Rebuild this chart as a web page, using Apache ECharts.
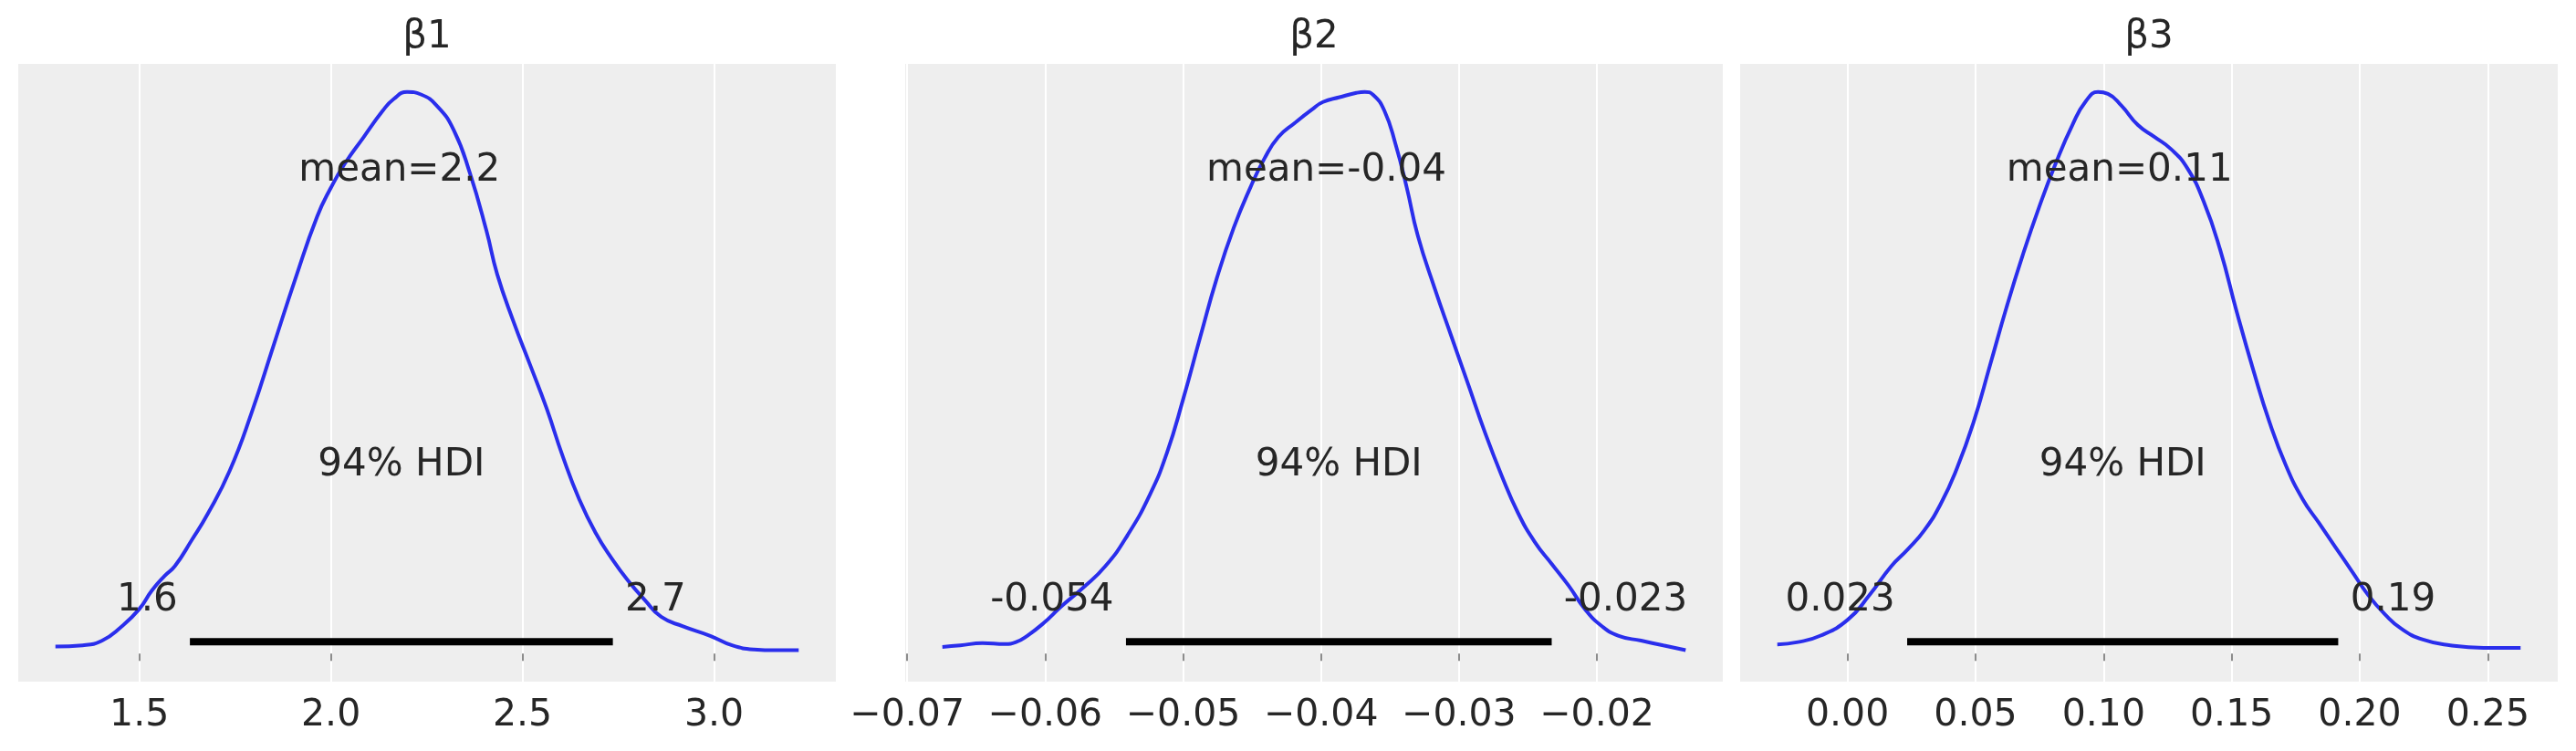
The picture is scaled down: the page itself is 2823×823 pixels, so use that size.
<!DOCTYPE html>
<html>
<head>
<meta charset="utf-8">
<title>posterior</title>
<script src="https://cdn.jsdelivr.net/npm/echarts@6.0.0/dist/echarts.min.js"></script>
<style>
	html, body { margin: 0; padding: 0; background: #ffffff; }
	.chart { width: 2823px; height: 823px; }
</style>
</head>
<body>
<div class="chart"></div>
<script>
// 		panel titles
const titles = ['β1', 'β2', 'β3'];

// 		KDE curves (x value, density)
const b1X = [1.281, 1.352, 1.402, 1.452, 1.500, 1.533, 1.566, 1.593, 1.637, 1.679, 1.736, 1.793, 1.850, 1.907, 1.964, 2.000, 2.036, 2.085, 2.135, 2.164, 2.199, 2.235, 2.278, 2.321, 2.363, 2.406, 2.434, 2.477, 2.520, 2.563, 2.605, 2.648, 2.691, 2.734, 2.776, 2.819, 2.862, 2.919, 2.990, 3.047, 3.104, 3.161, 3.221];
const b1Y = [0.017, 0.020, 0.031, 0.064, 0.108, 0.153, 0.188, 0.212, 0.275, 0.339, 0.443, 0.583, 0.745, 0.907, 1.058, 1.128, 1.186, 1.250, 1.314, 1.343, 1.360, 1.354, 1.325, 1.267, 1.163, 1.024, 0.919, 0.803, 0.699, 0.594, 0.478, 0.374, 0.292, 0.229, 0.176, 0.130, 0.089, 0.066, 0.043, 0.020, 0.010, 0.008, 0.008];

const b2X = [-0.06745, -0.06616, -0.06454, -0.06292, -0.06211, -0.06130, -0.06009, -0.05888, -0.05726, -0.05564, -0.05402, -0.05240, -0.05119, -0.04998, -0.04876, -0.04755, -0.04633, -0.04512, -0.04411, -0.04310, -0.04188, -0.04067, -0.03986, -0.03865, -0.03744, -0.03683, -0.03622, -0.03541, -0.03460, -0.03379, -0.03299, -0.03177, -0.03056, -0.02934, -0.02813, -0.02692, -0.02570, -0.02449, -0.02328, -0.02206, -0.02085, -0.01964, -0.01842, -0.01680, -0.01519, -0.01357];
const b2Y = [0.56, 0.68, 0.88, 0.80, 0.96, 1.48, 2.57, 3.89, 5.49, 7.30, 9.91, 13.31, 16.72, 21.33, 26.45, 31.40, 35.60, 38.98, 41.38, 43.19, 44.39, 45.48, 46.12, 46.52, 46.88, 46.96, 46.72, 45.40, 42.59, 38.98, 34.97, 30.56, 26.55, 22.54, 18.53, 14.92, 11.71, 9.30, 7.50, 5.69, 3.69, 2.29, 1.48, 1.08, 0.68, 0.28];

const b3X = [-0.0274, -0.0193, -0.0107, 0.0000, 0.0086, 0.0171, 0.0235, 0.0300, 0.0364, 0.0428, 0.0492, 0.0557, 0.0621, 0.0685, 0.0749, 0.0813, 0.0878, 0.0931, 0.0978, 0.1017, 0.1070, 0.1134, 0.1199, 0.1263, 0.1327, 0.1391, 0.1455, 0.1520, 0.1584, 0.1648, 0.1712, 0.1777, 0.1841, 0.1905, 0.1969, 0.2033, 0.2098, 0.2162, 0.2247, 0.2354, 0.2483, 0.2628];
const b3Y = [0.146, 0.184, 0.284, 0.538, 0.937, 1.398, 1.666, 1.974, 2.396, 2.972, 3.701, 4.623, 5.544, 6.389, 7.157, 7.848, 8.462, 8.846, 8.992, 8.962, 8.770, 8.462, 8.271, 8.078, 7.771, 7.234, 6.466, 5.468, 4.546, 3.701, 3.010, 2.473, 2.089, 1.705, 1.321, 0.937, 0.630, 0.399, 0.223, 0.131, 0.092, 0.092];

// 		94% HDI and point estimate
const hdiLow = [1.632, -0.05414, 0.0233];
const hdiHigh = [2.736, -0.02328, 0.1916];
const hdiLowText = ['1.6', '-0.054', '0.023'];
const hdiHighText = ['2.7', '-0.023', '0.19'];
const meanX = [2.179, -0.03962, 0.1062];
const meanText = ['mean=2.2', 'mean=-0.04', 'mean=0.11'];
const hdiLabel = '94% HDI';

// 		x tick values and labels
const b1Ticks = [1.5, 2.0, 2.5, 3.0];
const b1TickLabels = ['1.5', '2.0', '2.5', '3.0'];
const b2Ticks = [-0.07, -0.06, -0.05, -0.04, -0.03, -0.02];
const b2TickLabels = ['−0.07', '−0.06', '−0.05', '−0.04', '−0.03', '−0.02'];
const b3Ticks = [0, 0.05, 0.10, 0.15, 0.20, 0.25];
const b3TickLabels = ['0.00', '0.05', '0.10', '0.15', '0.20', '0.25'];

(function() {
	let myChart = echarts.init(document.querySelector('.chart'));

	const xs = [b1X, b2X, b3X];
	const ys = [b1Y, b2Y, b3Y];
	const ticks = [b1Ticks, b2Ticks, b3Ticks];
	const tickLabels = [b1TickLabels, b2TickLabels, b3TickLabels];

	// 	layout (px)
	const gridLeft = [20, 992, 1907];
	const gridTop = 70;
	const gridW = 896;
	const gridH = 677;
	const FONT = 'DejaVu Sans';
	const INK = '#262626';
	const FS = 42;
	// 	matplotlib places text by baseline, zrender by middle
	const SHIFT = 0.3 * FS;

	let grids = [], xAxes = [], yAxes = [], series = [], graphics = [];

	for (let i = 0; i < 3; i++) {
		const x = xs[i], y = ys[i];
		const peak = Math.max(...y);
		const pad = (x[x.length - 1] - x[0]) * 0.05;
		const yMax = peak * 1.05;

		grids.push({
			left: gridLeft[i], top: gridTop, width: gridW, height: gridH,
			show: true, backgroundColor: '#eeeeee', borderWidth: 0,
			containLabel: false, outerBoundsMode: 'none'
		});

		xAxes.push({
			type: 'value',
			gridIndex: i,
			min: x[0] - pad,
			max: x[x.length - 1] + pad,
			axisLine: { show: false },
			axisTick: {
				show: true, length: 8, customValues: ticks[i],
				lineStyle: { color: '#8c8c8c', width: 2 }
			},
			axisLabel: {
				customValues: ticks[i],
				fontSize: 41, fontFamily: FONT, color: INK, margin: 17,
				formatter: function(v) {
					const k = ticks[i].findIndex(t => Math.abs(t - v) < 1e-9);
					return k < 0 ? '' : tickLabels[i][k];
				}
			},
			splitLine: { show: true, lineStyle: { color: '#ffffff', width: 2 } }
		});

		yAxes.push({ type: 'value', gridIndex: i, min: -peak * 0.05, max: yMax, show: false });

		// 	density curve
		series.push({
			type: 'line', xAxisIndex: i, yAxisIndex: i,
			data: x.map((v, j) => [v, y[j]]),
			showSymbol: false, symbol: 'none',
			smooth: 0.5,
			lineStyle: { color: '#2a2eec', width: 4 },
			z: 3
		});

		// 	HDI bar
		series.push({
			type: 'line', xAxisIndex: i, yAxisIndex: i,
			data: [[hdiLow[i], yMax * 0.02], [hdiHigh[i], yMax * 0.02]],
			symbol: 'none',
			lineStyle: { color: '#000000', width: 8, cap: 'butt' },
			z: 4
		});

		// 	annotations
		const items = [
			[meanX[i], yMax * 0.8, meanText[i], 'center'],
			[(hdiLow[i] + hdiHigh[i]) / 2, yMax * 0.3, hdiLabel, 'center'],
			[hdiLow[i], yMax * 0.07, hdiLowText[i] + ' ', 'right'],
			[hdiHigh[i], yMax * 0.07, ' ' + hdiHighText[i], 'left']
		];
		series.push({
			type: 'custom', xAxisIndex: i, yAxisIndex: i,
			data: items.map(t => [t[0], t[1]]),
			z: 5,
			renderItem: function(params, api) {
				const t = items[params.dataIndex];
				const p = api.coord([t[0], t[1]]);
				return {
					type: 'text',
					x: p[0], y: p[1] - SHIFT,
					style: {
						text: t[2], align: t[3], verticalAlign: 'middle',
						fontSize: FS, fontFamily: FONT, fill: INK
					}
				};
			}
		});

		graphics.push({
			type: 'text',
			x: gridLeft[i] + gridW / 2,
			y: 53.3 - SHIFT,
			style: {
				text: titles[i], align: 'center', verticalAlign: 'middle',
				fontSize: FS, fontFamily: FONT, fill: INK
			}
		});
	}

	let option = {
		animation: false,
		backgroundColor: '#ffffff',
		grid: grids,
		xAxis: xAxes,
		yAxis: yAxes,
		series: series,
		graphic: graphics
	};

	myChart.setOption(option);

	window.addEventListener('resize', function() {
		myChart.resize();
	})
})();
</script>
</body>
</html>
